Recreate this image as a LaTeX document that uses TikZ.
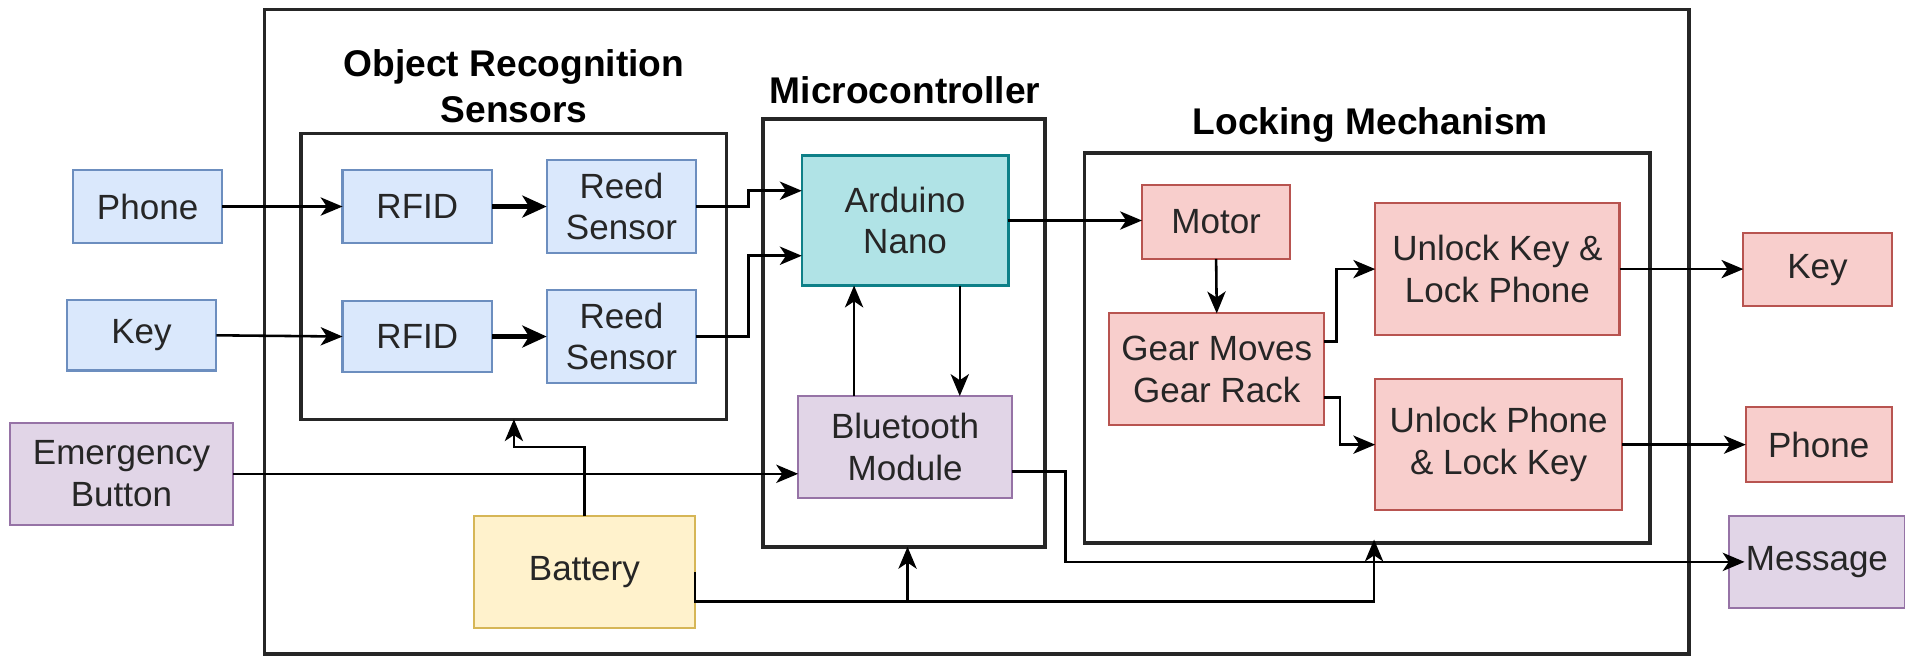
\documentclass[tikz,border=0pt]{standalone}
\usepackage{fontspec}
\setmainfont{Liberation Sans}
\usetikzlibrary{arrows.meta,calc}
\definecolor{bluef}{HTML}{DAE8FC}\definecolor{blued}{HTML}{6C8EBF}
\definecolor{purf}{HTML}{E1D5E7}\definecolor{purd}{HTML}{9673A6}
\definecolor{redf}{HTML}{F8CECC}\definecolor{redd}{HTML}{B85450}
\definecolor{yelf}{HTML}{FFF2CC}\definecolor{yeld}{HTML}{D6B656}
\definecolor{tealf}{HTML}{B0E3E6}\definecolor{teald}{HTML}{0E8088}
\tikzset{
  box/.style={draw, line width=0.5pt, inner sep=0pt, outer sep=0pt, align=center,
    font=\fontsize{8.2}{9.7}\selectfont, text=black!85},
  bluebox/.style={box, fill=bluef, draw=blued},
  purbox/.style={box, fill=purf, draw=purd},
  redbox/.style={box, fill=redf, draw=redd},
  yelbox/.style={box, fill=yelf, draw=yeld},
  tealbox/.style={box, fill=tealf, draw=teald},
  grp/.style={draw=black!85, line width=0.8pt, inner sep=0pt, outer sep=0pt},
  title/.style={font=\bfseries\fontsize{8.7}{10.8}\selectfont, align=center, inner sep=0pt},
  arr/.style={line width=0.6pt, -{Stealth[length=1.8mm,width=1.5mm,inset=0.5mm]}},
  arrthick/.style={line width=1pt, -{Stealth[length=2mm,width=1.8mm,inset=0.55mm]}},
  ln/.style={line width=0.6pt}
}
\begin{document}
\begin{tikzpicture}[x=0.01cm,y=-0.01cm]
\useasboundingbox (0,0) rectangle (1568,540);
% groups
\node[grp, minimum width=11.72cm, minimum height=5.30cm] (outer) at (804,273) {};
\node[grp, minimum width=3.50cm, minimum height=2.35cm] (ors) at (423,227.5) {};
\node[grp, minimum width=2.32cm, minimum height=3.52cm] (mc) at (744,274) {};
\node[grp, minimum width=4.65cm, minimum height=3.21cm] (lm) at (1125.5,286.5) {};
\node[title] (tors) at (423,71) {Object Recognition\\Sensors};
\node[title] (tmc) at (745,74) {Microcontroller};
\node[title] (tlm) at (1128,103) {Locking Mechanism};
% nodes
\node[bluebox, minimum width=1.23cm, minimum height=0.60cm] (phoneL) at (121.5,170) {Phone};
\node[bluebox, minimum width=1.23cm, minimum height=0.58cm] (keyL) at (116.5,276) {Key};
\node[purbox, minimum width=1.84cm, minimum height=0.84cm] (emerg) at (100,390) {Emergency\\Button};
\node[bluebox, minimum width=1.23cm, minimum height=0.60cm] (rfid1) at (343.5,170) {RFID};
\node[bluebox, minimum width=1.23cm, minimum height=0.77cm] (reed1) at (511.5,170) {Reed\\Sensor};
\node[bluebox, minimum width=1.23cm, minimum height=0.58cm] (rfid2) at (343.5,277) {RFID};
\node[bluebox, minimum width=1.23cm, minimum height=0.77cm] (reed2) at (511.5,277) {Reed\\Sensor};
\node[tealbox, minimum width=1.70cm, minimum height=1.07cm] (ard) at (745,181.5) {Arduino\\Nano};
\node[purbox, minimum width=1.76cm, minimum height=0.84cm] (bt) at (745,368) {Bluetooth\\Module};
\node[yelbox, minimum width=1.82cm, minimum height=0.92cm] (bat) at (481,471) {Battery};
\node[redbox, minimum width=1.22cm, minimum height=0.61cm] (motor) at (1001,182.5) {Motor};
\node[redbox, minimum width=1.77cm, minimum height=0.92cm] (gear) at (1001.5,304) {Gear Moves\\Gear Rack};
\node[redbox, minimum width=2.01cm, minimum height=1.09cm] (ul1) at (1232.5,221.5) {Unlock Key \&\\Lock Phone};
\node[redbox, minimum width=2.03cm, minimum height=1.08cm] (ul2) at (1233.5,366) {Unlock Phone\\\& Lock Key};
\node[redbox, minimum width=1.22cm, minimum height=0.60cm] (keyR) at (1496,222) {Key};
\node[redbox, minimum width=1.20cm, minimum height=0.62cm] (phoneR) at (1497,366) {Phone};
\node[purbox, minimum width=1.45cm, minimum height=0.76cm] (msg) at (1495.5,462.5) {Message};
% connectors
\draw[arr] (phoneL.east) -- (rfid1.west);
\draw[arrthick] (rfid1.east) -- (rfid1.east -| reed1.west);
\draw[arr] (keyL.east) -- (rfid2.west);
\draw[arrthick] (rfid2.east) -- (rfid2.east -| reed2.west);
\draw[arr] (reed1.east) -- ++(43,0) |- ($(ard.west)+(0,-24.5)$);
\draw[arr] (reed2.east) -- ++(43,0) |- ($(ard.west)+(0,29)$);
\draw[arr] (ard.east) -- (ard.east -| motor.west);
\draw[arr] ($(bt.north)+(-42,0)$) -- ($(ard.south)+(-42,0)$);
\draw[arr] ($(ard.south)+(45,0)$) -- ($(bt.north)+(45,0)$);
\draw[arr] (emerg.east) -- (emerg.east -| bt.west);
\draw[arr] (bat.north) -- ++(0,-57) -| (ors.south);
\draw[arr] (bat.east) -- ++(0,24) -| ($(lm.south)+(5.5,-3)$);
\draw[arr] ($(bat.east)+(0,24)$) -| ($(mc.south)+(3,0)$);
\draw[arr] ($(bt.east)+(0,20)$) -- ++(44,0) |- ($(msg.west)+(13,0)$);
\draw[arr] (motor.south) -- (gear.north);
\draw[arr] ($(gear.east)+(0,-23)$) -- ++(10,0) |- (ul1.west);
\draw[arr] ($(gear.east)+(0,23)$) -- ++(13,0) |- (ul2.west);
\draw[arr] (ul1.east) -- (ul1.east -| keyR.west);
\draw[arr] (ul2.east) -- (phoneR.west);
\end{tikzpicture}
\end{document}
